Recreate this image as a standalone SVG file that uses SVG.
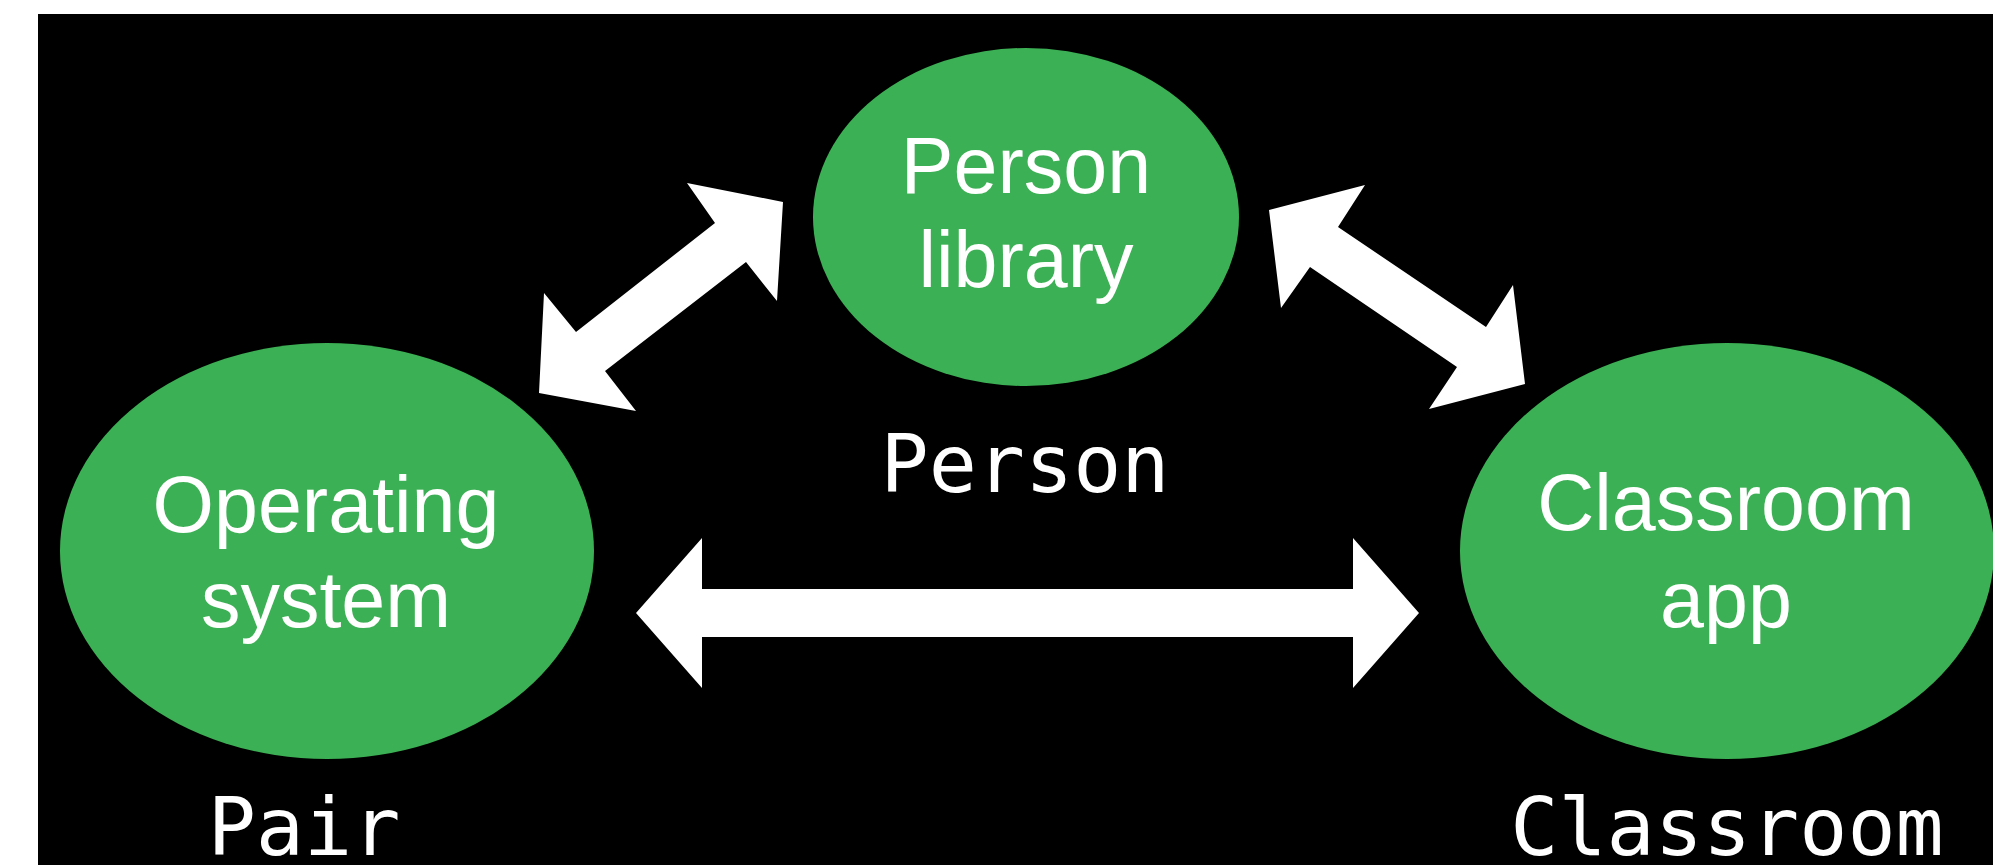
<svg xmlns="http://www.w3.org/2000/svg" width="1993" height="865" viewBox="0 0 1993 865">
<style>
.node{fill:#3cb054}
.nt{font-family:"Liberation Sans",Arial,sans-serif;font-size:79px;fill:#ffffff;text-anchor:middle}
.mono{font-family:"DejaVu Sans Mono","Liberation Mono",monospace;font-size:80px;fill:#ffffff;text-anchor:middle}
.arrow{fill:#ffffff}
</style>
<rect x="0" y="0" width="1993" height="865" fill="#ffffff"/>
<rect x="38" y="14" width="1955" height="851" fill="#000000"/>
<g id="node-person-library">
<ellipse class="node" cx="1026" cy="217" rx="213" ry="169"/>
<text class="nt" x="1026" y="193">Person</text>
<text class="nt" x="1026" y="287">library</text>
</g>
<g id="node-operating-system">
<ellipse class="node" cx="327" cy="551" rx="267" ry="208"/>
<text class="nt" x="326" y="532">Operating</text>
<text class="nt" x="326" y="627">system</text>
</g>
<g id="node-classroom-app">
<ellipse class="node" cx="1727" cy="551" rx="267" ry="208"/>
<text class="nt" x="1726" y="530">Classroom</text>
<text class="nt" x="1726" y="627">app</text>
</g>
<g id="labels">
<text class="mono" x="1025" y="492">Person</text>
<text class="mono" x="304" y="855">Pair</text>
<text class="mono" x="1727" y="855">Classroom</text>
</g>
<g id="connectors">
<polygon class="arrow" points="539,393 544,293 576,332 715,223 687,183 783,202 777,301 746,262 605,371 636,411"/>
<polygon class="arrow" points="1269,210 1365,185 1338,227 1486,327 1513,285 1525,384 1429,409 1457,367 1310,267 1281,308"/>
<polygon class="arrow" points="636,613 702,538 702,589 1353,589 1353,538 1419,613 1353,688 1353,637 702,637 702,688"/>
</g>
</svg>
